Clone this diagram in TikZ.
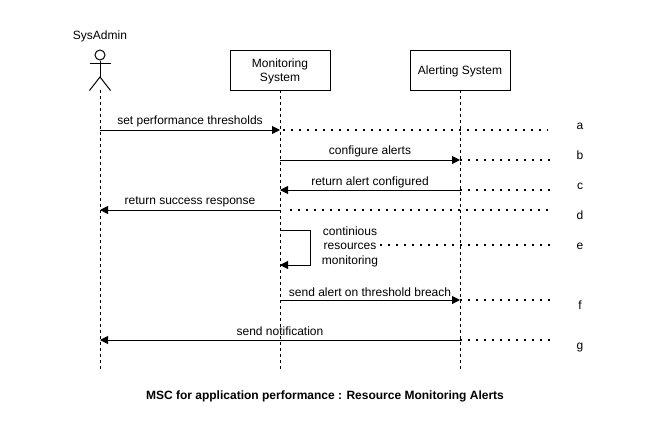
\documentclass[tikz,border=0pt]{standalone}
\usepackage{fontspec}
\setmainfont{Liberation Sans}
\usetikzlibrary{arrows.meta,calc}

\begin{document}
\begin{tikzpicture}[x=1pt,y=-1pt,line width=1pt,
  font=\fontsize{12}{14.5}\selectfont,
  system/.style={rectangle,draw,minimum width=100pt,minimum height=40pt,inner sep=0pt},
  lifeline/.style={dash pattern=on 3pt off 3pt},
  message/.style={-{Triangle[length=8pt,width=8pt]}},
  guide/.style={line width=1.3pt,dash pattern=on 2pt off 6pt},
  caption/.style={inner sep=0pt,align=center,yshift=-1.5pt}]

\useasboundingbox (0,0) rectangle (651,431);

% Actor
\node (sysadmin) at (100,35) [caption] {SysAdmin};
\node (head) at (100,55) [circle,draw,minimum size=10pt,inner sep=0pt] {};
\coordinate (hip) at (100,77);
\coordinate (foot) at (100,90);
\draw (head) -- (hip);
\draw ($(head)+(-10.5,8.5)$) -- ($(head)+(10.5,8.5)$);
\draw ($(foot)+(-10.5,0.5)$) -- (hip) -- ($(foot)+(10.5,0.5)$);

% Systems
\node (monitoring) at (280,70) [system,label={[caption]center:Monitoring\\System}] {};
\node (alerting) at (460,70) [system,label={[caption]center:Alerting System}] {};

% Lifelines
\coordinate (adminend) at (100,370);
\coordinate (monitorend) at (280,370);
\coordinate (alertend) at (460,370);
\draw[lifeline] (foot) -- (adminend);
\draw[lifeline] (monitoring) ++(0,20) -- (monitorend);
\draw[lifeline] (alerting) ++(0,20) -- (alertend);

% Points on the lifelines
\coordinate (adminset) at (100,130);
\coordinate (monitorset) at (280,130);
\coordinate (monitorconf) at (280,160);
\coordinate (alertconf) at (460,160);
\coordinate (alertret) at (460,190);
\coordinate (monitorret) at (280,190);
\coordinate (monitorok) at (280,210);
\coordinate (adminok) at (100,210);
\coordinate (loopa) at (280,230);
\coordinate (loopb) at (280,265);
\coordinate (monitorsend) at (280,300);
\coordinate (alertsend) at (460,300);
\coordinate (alertnote) at (460,340);
\coordinate (adminnote) at (100,340);

% Messages
\draw[message] (adminset) -- (monitorset);
\draw[message] (monitorconf) -- (alertconf);
\draw[message] (alertret) -- (monitorret);
\draw[message] (monitorok) -- (adminok);
\draw[message] (loopa) -- ++(30,0) |- (loopb);
\draw[message] (monitorsend) -- (alertsend);
\draw[message] (alertnote) -- (adminnote);

% Message labels
\node (setlabel) at (190,120) [caption] {set performance thresholds};
\node (conflabel) at (370,150) [caption] {configure alerts};
\node (retlabel) at (370,181) [caption] {return alert configured};
\node (oklabel) at (190,200) [caption] {return success response};
\node (loopnote) at (350,245) [caption] {continious\\resources\\monitoring};
\node (sendlabel) at (370,291) [caption] {send alert on threshold breach};
\node (notelabel) at (280,330) [caption] {send notification};

% Dotted guides
\node (marka) at (580,125) [caption] {a};
\node (markb) at (580,154) [caption] {b};
\node (markc) at (580,185) [caption] {c};
\node (markd) at (580,214) [caption] {d};
\node (marke) at (580,245) [caption] {e};
\node (markf) at (580,304) [caption] {f};
\node (markg) at (580,346) [caption] {g};
\coordinate (guidea) at (548,130);
\coordinate (guideb) at (552,160);
\coordinate (guidec) at (552,190);
\coordinate (guided) at (551,210);
\coordinate (guidee) at (552,245);
\coordinate (guidef) at (552,300);
\coordinate (guideg) at (552,340);
\draw[guide] ($(monitorset)+(3,0)$) -- (guidea);
\draw[guide] (alertconf) -- (guideb);
\draw[guide] (alertret) -- (guidec);
\draw[guide] ($(monitorok)+(10,0)$) -- (guided);
\draw[guide] (380,245) -- (guidee);
\draw[guide] (alertsend) -- (guidef);
\draw[guide] (alertnote) -- (guideg);

% Title
\node (title) at (325,395) [caption,font=\fontsize{12}{14.5}\selectfont\bfseries] {MSC for application performance : Resource Monitoring Alerts};

\end{tikzpicture}
\end{document}
